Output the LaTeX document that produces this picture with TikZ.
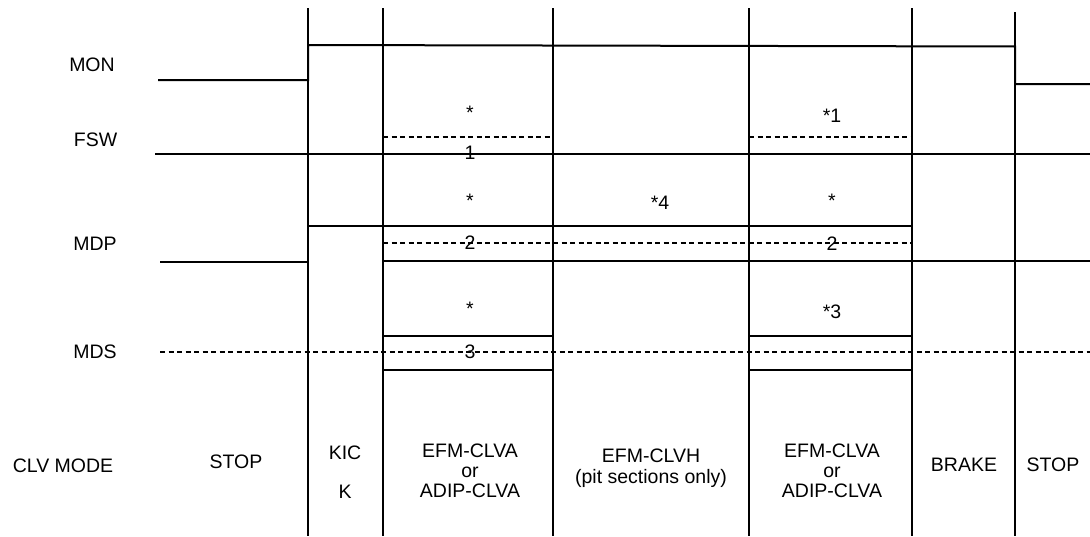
\documentclass[tikz,border=0pt]{standalone}
\usepackage{fontspec}
\setmainfont{Liberation Sans}
\begin{document}
\begin{tikzpicture}[x=1pt,y=-1pt,
  sig/.style={line width=2pt},
  grid/.style={line width=2.4pt},
  dsig/.style={line width=1.1pt, dash pattern=on 5pt off 3.5pt},
  lbl/.style={font=\fontsize{19.5}{20}\selectfont, inner sep=0pt},
  mode/.style={font=\fontsize{19.5}{20}\selectfont, inner sep=0pt, align=center}]
\useasboundingbox (0,0) rectangle (1090,536);
% vertical phase boundaries
\foreach \x/\t in {308/8,383/8,553/8,749/8,912/8,1015/12}
  \draw[grid] (\x,\t) -- (\x,536);
% row labels
\node[lbl] (mon) at (92,64.5) {MON};
\node[lbl] (fsw) at (95.5,140) {FSW};
\node[lbl] (mdp) at (95,244) {MDP};
\node[lbl] (mds) at (95,352) {MDS};
\node[lbl] (clv) at (63,466) {CLV MODE};
% MON
\draw[sig] (158,80) -- (308,80) -- (308,45) -- (1015,46.5) -- (1015,84) -- (1090,84);
% FSW
\draw[sig] (155,154) -- (1090,154);
\draw[dsig] (383,137) -- (553,137);
\draw[dsig] (749,137) -- (912,137);
\node[lbl] (s1) at (470,113) {*};
\node[lbl] (s1b) at (832,116) {*1};
\node[lbl] (n1) at (470,153) {1};
% MDP
\draw[sig] (160,262) -- (308,262) -- (308,226) -- (912,226);
\draw[sig] (383,261) -- (1090,261);
\draw[dsig] (383,243) -- (912,243);
\node[lbl] (s2) at (470,201) {*};
\node[lbl] (s4) at (660,203) {*4};
\node[lbl] (s2b) at (832,201) {*};
\node[lbl] (n2a) at (470,243) {2};
\node[lbl] (n2b) at (832,244) {2};
% MDS
\draw[dsig] (160,352) -- (1090,352);
\draw[sig] (383,336) -- (553,336);
\draw[sig] (383,370) -- (553,370);
\draw[sig] (749,336) -- (912,336);
\draw[sig] (749,370) -- (912,370);
\node[lbl] (s3) at (470,309) {*};
\node[lbl] (s3b) at (832,312) {*3};
\node[lbl] (n3) at (470,352) {3};
% CLV MODE
\node[lbl] (stop1) at (236,462) {STOP};
\node[lbl] (kic) at (345,453) {KIC};
\node[lbl] (k) at (345,492) {K};
\node[lbl] (m1a) at (470,451) {EFM-CLVA};
\node[lbl] (m1b) at (470,472) {or};
\node[lbl] (m1c) at (470,491) {ADIP-CLVA};
\node[lbl] (m2a) at (651,456) {EFM-CLVH};
\node[lbl] (m2b) at (651,478) {(pit sections only)};
\node[lbl] (m3a) at (832,451) {EFM-CLVA};
\node[lbl] (m3b) at (832,472) {or};
\node[lbl] (m3c) at (832,491) {ADIP-CLVA};
\node[lbl] (brake) at (964,465) {BRAKE};
\node[lbl] (stop2) at (1053,465) {STOP};
\end{tikzpicture}
\end{document}
